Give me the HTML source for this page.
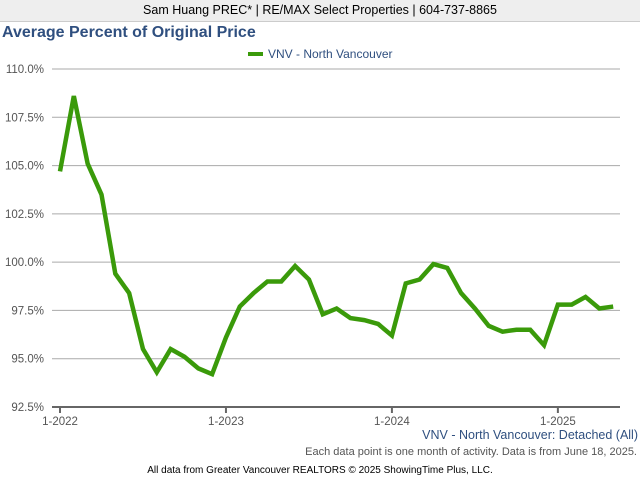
<!DOCTYPE html>
<html><head><meta charset="utf-8"><style>
body{margin:0;width:640px;height:480px;background:#fff;font-family:"Liberation Sans",sans-serif;overflow:hidden;position:relative}
.hdr{position:absolute;left:0;top:0;width:640px;height:21px;background:#eee;border-bottom:1px solid #ccc;text-align:center;font-size:12.5px;line-height:21px;color:#000}
.title{position:absolute;left:2px;top:24px;font-size:16px;font-weight:bold;color:#2f4f7f}
</style></head><body>
<div class="hdr">Sam Huang PREC* | RE/MAX Select Properties | 604-737-8865</div>
<div class="title">Average Percent of Original Price</div>
<svg id="c" width="640" height="480" style="position:absolute;left:0;top:0"></svg>
<script>
const values=[104.7,108.6,105.1,103.5,99.4,98.4,95.5,94.3,95.5,95.1,94.5,94.2,
96.1,97.7,98.4,99.0,99.0,99.8,99.1,97.3,97.6,97.1,97.0,96.8,
96.2,98.9,99.1,99.9,99.7,98.4,97.6,96.7,96.4,96.5,96.5,95.7,
97.8,97.8,98.2,97.6,97.7];
const yTicks=[92.5,95,97.5,100,102.5,105,107.5,110];
const xTickLabels=["1-2022","1-2023","1-2024","1-2025"];
const xTickIdx=[0,12,24,36];
const NS="http://www.w3.org/2000/svg";
const svg=document.getElementById('c');
const X=i=>60+i*13.83;
const Y=v=>407-(v-92.5)*(338/17.5);
function mk(t,a,txt){const e=document.createElementNS(NS,t);for(const k in a)e.setAttribute(k,a[k]);if(txt!=null)e.textContent=txt;svg.appendChild(e);return e;}
yTicks.forEach(v=>{
 if(v>92.5){const g=mk('line',{x1:52,x2:620,y1:Y(v),y2:Y(v),stroke:'#aaa','stroke-width':1});
 
 }
 const t=mk('text',{x:44,y:Y(v)+4,'text-anchor':'end','font-size':11.5,fill:'#555'},v.toFixed(1)+'%');
 
 
});
const ax=mk('line',{x1:52,x2:620,y1:407,y2:407,stroke:'#666','stroke-width':2});


xTickIdx.forEach((i,k)=>{
 mk('line',{x1:X(i),x2:X(i),y1:407,y2:413,stroke:'#666','stroke-width':2});
 const t=mk('text',{x:X(i),y:425,'text-anchor':'middle','font-size':11.5,fill:'#555'},xTickLabels[k]);
 
 
});
const p=mk('polyline',{points:values.map((v,i)=>X(i)+','+Y(v)).join(' '),fill:'none',stroke:'#3a9a0a','stroke-width':4.5,'stroke-linejoin':'miter'});


const ll=mk('line',{x1:248,x2:263,y1:54,y2:54,stroke:'#3a9a0a','stroke-width':4});


const lt=mk('text',{x:268,y:58,'font-size':12,fill:'#2f4f7f'},'VNV - North Vancouver');


const s1=mk('text',{x:638,y:439,'text-anchor':'end','font-size':12.5,fill:'#2f4f7f'},'VNV - North Vancouver: Detached (All)');


const s2=mk('text',{x:637,y:455,'text-anchor':'end','font-size':11,fill:'#555'},'Each data point is one month of activity. Data is from June 18, 2025.');


const s3=mk('text',{x:320,y:473,'text-anchor':'middle','font-size':10,fill:'#000'},'All data from Greater Vancouver REALTORS © 2025 ShowingTime Plus, LLC.');


</script>
</body></html>
